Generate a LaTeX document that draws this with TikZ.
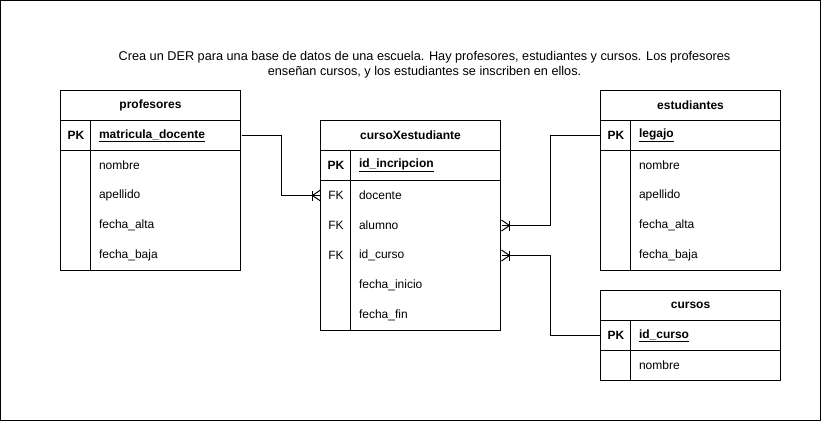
\documentclass[tikz,border=0pt]{standalone}
\usepackage{fontspec}
\setmainfont{Liberation Sans}
\begin{document}
\begin{tikzpicture}[x=1pt,y=-1pt, line width=1pt,
  every node/.style={font=\fontsize{12}{15}\selectfont, inner sep=0pt},
  hdr/.style={font=\fontsize{12}{15}\selectfont\bfseries},
  keycell/.style={minimum width=30pt, minimum height=30pt, anchor=west, font=\fontsize{12}{15}\selectfont\bfseries},
  keyfk/.style={minimum width=30pt, minimum height=30pt, anchor=west},
  fld/.style={minimum height=30pt, text width=134pt, inner xsep=8pt, anchor=west, align=left},
  pkfld/.style={fld, font=\fontsize{12}{15}\selectfont\bfseries},
  conn/.style={line width=1pt},
  crow/.pic={\draw[line width=1pt] (-8,-5) -- (-8,5); \draw[line width=1pt] (-8,0) -- (0,-5.5); \draw[line width=1pt] (-8,0) -- (0,5.5);}
]
\useasboundingbox (0,0) rectangle (821,421);
\draw (0.5,0.5) rectangle (820.5,420.5);

% title
\node[align=center, font=\fontsize{12.7}{15}\selectfont] (title) at (424.5,64.5) {Crea un DER para una base de datos de una escuela. Hay profesores, estudiantes y cursos. Los profesores\\enseñan cursos, y los estudiantes se inscriben en ellos.};

% profesores
\draw (60.5,90.5) rectangle (240.5,270.5);
\draw (60.5,120.5) -- (240.5,120.5);
\draw (60.5,150.5) -- (240.5,150.5);
\draw (90.5,120.5) -- (90.5,270.5);
\node[hdr] (prof) at (150.5,105.5) {profesores};
\node[keycell] (prof-k1) at (60.5,135.5) {PK};
\node[pkfld] (prof-f1) at (90.5,135.5) {\underline{matricula\_docente}};
\node[fld] (prof-f2) at (90.5,165.5) {nombre};
\node[fld] (prof-f3) at (90.5,195.5) {apellido};
\node[fld] (prof-f4) at (90.5,225.5) {fecha\_alta};
\node[fld] (prof-f5) at (90.5,255.5) {fecha\_baja};

% cursoXestudiante
\draw (320.5,120.5) rectangle (500.5,330.5);
\draw (320.5,150.5) -- (500.5,150.5);
\draw (320.5,180.5) -- (500.5,180.5);
\draw (350.5,150.5) -- (350.5,330.5);
\node[hdr] (cx) at (410.5,135.5) {cursoXestudiante};
\node[keycell] (cx-k1) at (320.5,165.5) {PK};
\node[pkfld] (cx-f1) at (350.5,165.5) {\underline{id\_incripcion}};
\node[keyfk] (cx-k2) at (320.5,195.5) {FK};
\node[fld] (cx-f2) at (350.5,195.5) {docente};
\node[keyfk] (cx-k3) at (320.5,225.5) {FK};
\node[fld] (cx-f3) at (350.5,225.5) {alumno};
\node[keyfk] (cx-k4) at (320.5,255.5) {FK};
\node[fld] (cx-f4) at (350.5,255.5) {id\_curso};
\node[fld] (cx-f5) at (350.5,285.5) {fecha\_inicio};
\node[fld] (cx-f6) at (350.5,315.5) {fecha\_fin};

% estudiantes
\draw (600.5,90.5) rectangle (780.5,270.5);
\draw (600.5,120.5) -- (780.5,120.5);
\draw (600.5,150.5) -- (780.5,150.5);
\draw (630.5,120.5) -- (630.5,270.5);
\node[hdr] (est) at (690.5,105.5) {estudiantes};
\node[keycell] (est-k1) at (600.5,135.5) {PK};
\node[pkfld] (est-f1) at (630.5,135.5) {\underline{legajo}};
\node[fld] (est-f2) at (630.5,165.5) {nombre};
\node[fld] (est-f3) at (630.5,195.5) {apellido};
\node[fld] (est-f4) at (630.5,225.5) {fecha\_alta};
\node[fld] (est-f5) at (630.5,255.5) {fecha\_baja};

% cursos
\draw (600.5,290.5) rectangle (780.5,380.5);
\draw (600.5,320.5) -- (780.5,320.5);
\draw (600.5,350.5) -- (780.5,350.5);
\draw (630.5,320.5) -- (630.5,380.5);
\node[hdr] (cur) at (690.5,305.5) {cursos};
\node[keycell] (cur-k1) at (600.5,335.5) {PK};
\node[pkfld] (cur-f1) at (630.5,335.5) {\underline{id\_curso}};
\node[fld] (cur-f2) at (630.5,365.5) {nombre};

% connectors
\draw[conn] (prof-f1.east) -- ++(40,0) |- (cx-k2.west);
\pic at (cx-k2.west) {crow};
\draw[conn] (est-k1.west) -- ++(-50,0) |- (cx-f3.east);
\pic[xscale=-1] at (cx-f3.east) {crow};
\draw[conn] (cur-k1.west) -- ++(-50,0) |- (cx-f4.east);
\pic[xscale=-1] at (cx-f4.east) {crow};
\end{tikzpicture}
\end{document}
